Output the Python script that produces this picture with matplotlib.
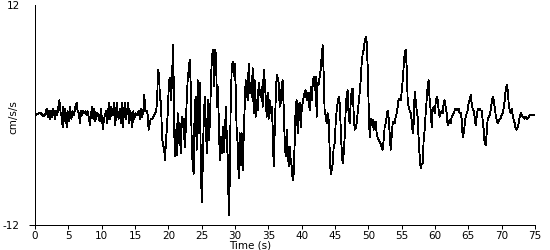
import numpy as np
import matplotlib
matplotlib.use("Agg")
import matplotlib.pyplot as plt

plt.rcParams["axes.unicode_minus"] = False

# ground acceleration record, (time s, cm/s/s)
quiet = [
    (0.0, 0.0), (0.4, 0.1), (0.75, 0.25), (1.0, 0.1), (1.25, -0.1), (1.5, 0.0),
    (1.75, 0.7), (1.9, -0.2), (2.1, 0.5), (2.25, -0.5), (2.4, 0.4), (2.6, -0.2),
    (2.75, 0.7), (3.0, -0.4), (3.15, 0.5), (3.35, 0.0), (3.5, 0.9), (3.65, 1.6),
    (3.85, 0.2), (4.0, -0.2), (4.15, -1.3), (4.25, 0.9), (4.4, -0.7), (4.55, 0.7),
    (4.75, -1.3), (4.9, 0.4), (5.05, -0.7), (5.25, 0.9), (5.45, -0.4), (5.65, 0.4),
    (5.85, 0.0), (6.05, 0.9), (6.25, 1.3), (6.4, 0.4), (6.55, 0.2), (6.75, -0.9),
    (6.9, 0.4), (7.05, 0.0), (7.25, 0.5), (7.4, 0.2), (7.55, 0.4), (7.75, 0.0),
    (7.9, 0.4), (8.05, -0.2), (8.25, -1.1), (8.4, 0.2), (8.6, 0.9), (8.75, -0.4),
    (8.9, 0.7), (9.05, -0.7), (9.2, 0.0), (9.35, 0.2), (9.55, -0.2), (9.7, -0.7),
    (9.9, 0.7), (10.05, -0.5), (10.2, -1.5), (10.35, -0.4), (10.5, 0.0), (10.65, 0.5),
    (10.85, -0.9), (11.0, 0.7), (11.15, 1.3), (11.3, -0.5), (11.45, 0.9), (11.6, 0.0),
    (11.75, 0.0), (11.9, 1.3), (12.05, -1.1), (12.25, 1.3), (12.4, 0.2), (12.55, -0.4),
    (12.7, 0.7), (12.9, -0.9), (13.05, 1.3), (13.2, -1.3), (13.35, 0.4), (13.5, 1.3),
    (13.65, -0.5), (13.8, 0.5), (14.0, 1.3), (14.15, -0.9), (14.3, 0.5), (14.45, -0.2),
    (14.6, -1.3), (14.75, 0.4), (14.9, -0.4), (15.05, 0.2), (15.25, 0.0), (15.4, 0.0),
    (15.55, 0.5), (15.75, -0.4), (15.9, 0.7), (16.05, -0.2), (16.25, 0.5), (16.4, 2.2),
    (16.55, 0.4), (16.75, 0.5), (16.9, 0.0), (17.05, -1.6), (17.25, -0.7), (17.4, -0.4),
    (17.55, -0.5), (17.75, -0.2), (17.9, 0.0), (18.05, 0.2), (18.2, 0.5),
]

strong = [
    (18.35, 2.4), (18.45, 4.9), (18.6, 4.5), (18.75, 1.6), (18.9, 1.5), (19.05, -2.4),
    (19.2, -3.3), (19.35, -3.5), (19.5, -4.9), (19.65, -2.7), (19.8, -1.3), (19.95, 0.9),
    (20.1, 3.8), (20.25, 4.0), (20.4, 1.6), (20.55, 3.8), (20.7, 7.6), (20.8, 3.8),
    (20.95, -4.5), (21.1, -1.6), (21.25, -4.4), (21.4, 0.2), (21.55, -3.1), (21.7, -0.9),
    (21.85, -4.2), (22.0, -0.2), (22.15, -1.3), (22.3, -0.4), (22.45, -3.5), (22.6, -1.8),
    (22.75, 1.5), (22.9, 3.8), (23.05, 4.9), (23.2, 6.0), (23.35, 3.5), (23.5, -2.7),
    (23.65, -5.6), (23.8, -6.4), (23.95, 0.9), (24.1, 2.0), (24.25, -3.8), (24.4, 3.8),
    (24.55, -2.0), (24.7, 3.5), (24.85, -3.8), (24.95, -7.8), (25.05, -9.5), (25.2, -3.8),
    (25.35, 0.5), (25.5, 2.0), (25.65, -2.0), (25.8, -4.2), (25.95, 1.6), (26.1, -2.7),
    (26.25, -0.5), (26.4, 3.8), (26.55, 6.5), (26.7, 7.1), (26.85, 3.1), (27.0, 7.1),
    (27.15, 6.7), (27.3, 0.9), (27.45, 3.1), (27.6, -2.0), (27.75, -4.9), (27.9, -2.4),
    (28.05, -4.2), (28.2, -1.3), (28.35, -4.0), (28.5, -1.6), (28.65, 0.9), (28.8, -3.5),
    (28.95, -4.9), (29.05, -10.9), (29.2, -7.5), (29.35, 0.9), (29.5, 4.9), (29.65, 5.8),
    (29.8, 4.2), (29.95, 5.6), (30.1, 3.1), (30.25, -1.8), (30.4, -3.1), (30.55, -6.9),
    (30.7, -2.0), (30.85, -5.5), (31.0, -2.0), (31.15, -6.0), (31.3, -2.4), (31.45, 0.9),
    (31.6, 3.8), (31.75, 2.7), (31.9, 1.6), (32.05, 5.6), (32.2, 2.4), (32.35, 3.5),
    (32.5, 2.0), (32.65, 5.1), (32.8, 0.2), (32.95, 3.8), (33.1, -0.2), (33.25, 1.6),
    (33.4, 0.5), (33.55, 3.5), (33.7, 2.7), (33.85, 2.0), (34.0, 3.1), (34.15, 0.9),
    (34.3, 4.9), (34.45, 3.8), (34.6, 2.0), (34.75, -0.2), (34.9, 2.4), (35.05, -0.4),
    (35.2, 1.6), (35.35, 0.2), (35.5, 0.9), (35.65, -1.3), (35.8, -5.6), (35.95, -2.0),
    (36.1, 1.6), (36.25, 4.4), (36.4, 4.0), (36.55, 3.5), (36.7, 0.9), (36.85, 1.3),
    (37.0, 3.3), (37.15, 3.8), (37.3, 0.9), (37.45, -2.7), (37.6, -4.5), (37.75, -1.6),
    (37.9, -3.5), (38.05, -5.6), (38.2, -3.5), (38.35, -4.9), (38.5, -5.6), (38.65, -7.1),
    (38.8, -6.4), (38.95, -3.1), (39.1, 0.9), (39.25, 1.6), (39.4, -2.0), (39.55, 0.9),
    (39.7, 1.3), (39.85, -1.3), (40.0, 0.5), (40.15, 1.3), (40.3, 2.0), (40.45, 2.4),
    (40.6, 2.7), (40.75, 1.6), (40.9, 2.4), (41.05, 1.6), (41.2, 0.5), (41.35, 3.1),
    (41.5, 1.6), (41.65, 3.5), (41.8, 4.2), (41.95, 2.7), (42.1, 4.2), (42.25, -0.2),
    (42.4, 3.5), (42.55, 3.3), (42.7, 4.2), (42.85, 4.9), (43.0, 6.4), (43.15, 7.6),
    (43.3, 4.5), (43.45, 0.2), (43.6, 0.0), (43.75, -0.9), (43.9, 0.2), (44.05, -0.5),
    (44.2, -3.8), (44.35, -6.5), (44.5, -6.0), (44.65, -5.3), (44.8, -3.5), (44.95, -3.1),
    (45.1, -0.9), (45.25, 0.5), (45.4, 1.3), (45.55, 2.0), (45.7, 1.3), (45.85, -1.3),
    (46.0, -3.8), (46.15, -5.3), (46.3, -4.2), (46.45, -2.4), (46.6, 0.5), (46.75, 2.2),
    (46.9, 2.7), (47.05, -0.2), (47.2, -0.9), (47.35, 1.3), (47.5, 2.7), (47.65, 2.9),
    (47.8, 0.2), (47.95, -1.6), (48.1, -1.5), (48.25, -0.9), (48.4, 0.2), (48.55, 1.3),
    (48.7, 2.4), (48.85, 3.8), (49.0, 5.6), (49.15, 6.7), (49.3, 7.1), (49.45, 8.0),
    (49.6, 8.5), (49.75, 8.0), (49.9, 5.3), (50.05, 0.9), (50.2, -2.4), (50.35, -0.4),
    (50.5, -1.1), (50.65, -0.5), (50.8, -1.6), (50.95, -0.9), (51.1, -0.7), (51.25, -2.0),
    (51.4, -2.5), (51.55, -2.7), (51.7, -2.9), (51.85, -3.1), (52.0, -3.5), (52.15, -3.8),
    (52.3, -2.7), (52.45, -1.3), (52.6, -0.9), (52.75, -0.2), (52.9, 0.5), (53.05, -0.4),
    (53.2, -2.0), (53.35, -3.8), (53.5, -2.4), (53.65, -0.9), (53.8, -0.7), (53.95, -0.9),
    (54.1, -0.2), (54.25, 0.2), (54.4, 0.9), (54.55, 1.8), (54.7, 1.6), (54.85, 1.6),
    (55.0, 2.5), (55.15, 3.8), (55.3, 5.3), (55.45, 6.7), (55.6, 7.1), (55.75, 5.3),
    (55.9, 1.6), (56.05, 0.9), (56.2, 0.5), (56.35, 0.2), (56.5, -0.5), (56.65, -2.0),
    (56.8, -0.9), (56.95, 2.5), (57.1, 1.6), (57.25, 0.5), (57.4, -0.2), (57.55, -2.7),
    (57.7, -4.5), (57.85, -5.8), (58.0, -5.3), (58.15, -5.3), (58.3, -2.7), (58.45, -1.6),
    (58.6, 0.2), (58.75, 1.6), (58.9, 3.1), (59.05, 3.8), (59.2, 1.6), (59.35, 0.5),
]

coda = [
    (59.5, -1.3), (59.65, 0.5), (59.8, 0.9), (59.95, 0.2), (60.1, 1.3), (60.25, 2.0),
    (60.4, 1.6), (60.55, 0.5), (60.7, -0.2), (60.85, 0.2), (61.0, 0.5), (61.15, 0.2),
    (61.3, 1.3), (61.45, 1.6), (61.6, 0.9), (61.75, 0.2), (61.9, -1.1), (62.05, -0.9),
    (62.2, -0.5), (62.35, -0.9), (62.5, -0.2), (62.65, 0.0), (62.8, 0.2), (62.95, 0.5),
    (63.1, 0.7), (63.25, 0.7), (63.4, 0.5), (63.55, 0.7), (63.7, 0.2), (63.85, 0.2),
    (64.0, -0.4), (64.15, -2.4), (64.3, -2.0), (64.45, -1.1), (64.6, -0.2), (64.75, 0.2),
    (64.9, 0.5), (65.05, 1.3), (65.2, 1.6), (65.35, 2.2), (65.5, 1.3), (65.65, 0.7),
    (65.8, 0.5), (65.95, -0.2), (66.1, -1.1), (66.25, -0.2), (66.4, 0.5), (66.55, 0.7),
    (66.7, 0.7), (66.85, 0.5), (67.0, 0.5), (67.15, -0.5), (67.3, -1.6), (67.45, -3.1),
    (67.6, -3.3), (67.75, -2.0), (67.9, -0.5), (68.05, -0.2), (68.2, 0.0), (68.35, 0.5),
    (68.5, 1.3), (68.65, 2.0), (68.8, 1.6), (68.95, 0.9), (69.1, 0.0), (69.25, -0.5),
    (69.4, -0.9), (69.55, -0.7), (69.7, -0.5), (69.85, -0.4), (70.0, 0.0), (70.15, 0.2),
    (70.3, 0.7), (70.45, 1.6), (70.6, 2.7), (70.75, 3.3), (70.9, 2.7), (71.05, 1.3),
    (71.2, 0.5), (71.35, 0.2), (71.5, 0.7), (71.65, 0.0), (71.8, -0.5), (71.95, -0.9),
    (72.1, -1.5), (72.25, -1.6), (72.4, -1.3), (72.55, -0.9), (72.7, -0.2), (72.85, 0.2),
    (73.0, 0.0), (73.15, -0.2), (73.3, -0.2), (73.45, -0.4), (73.6, -0.2), (73.75, -0.4),
    (73.9, -0.4), (74.05, -0.2), (74.2, 0.0), (74.35, 0.0), (75.0, 0.0),
]

x_ticks = list(range(0, 80, 5))
y_ticks = [-12, 12]

pts = np.array(quiet + strong + coda)
t, acc = pts[:, 0], pts[:, 1]

fig = plt.figure(figsize=(5.5, 2.5), dpi=100)
ax = fig.add_axes([35 / 550, 0.1, 500 / 550, 0.88])

ax.plot(t, acc, color="black", lw=0.6, antialiased=False)

ax.set_xlim(0, 75)
ax.set_ylim(-12, 12)
ax.spines["top"].set_visible(False)
ax.spines["right"].set_visible(False)
for s in ("left", "bottom"):
    ax.spines[s].set_linewidth(0.72)
    ax.spines[s].set_antialiased(False)

ax.set_xticks(x_ticks)
ax.set_yticks(y_ticks)
ax.tick_params(axis="x", direction="out", length=3, width=0.72, pad=1.5, labelsize=7.5)
ax.tick_params(axis="y", direction="out", length=4, width=0.72, pad=7, labelsize=7.5)
ax.yaxis.get_major_ticks()[1].tick1line.set_visible(False)

fig.text(250 / 550, 1 - 245 / 250, "Time (s)", ha="center", va="center", fontsize=7.5)
fig.text(13 / 550, 1 - 117 / 250, "cm/s/s", ha="center", va="center", rotation=90, fontsize=7.5)

fig.savefig("out.png", dpi=100)
